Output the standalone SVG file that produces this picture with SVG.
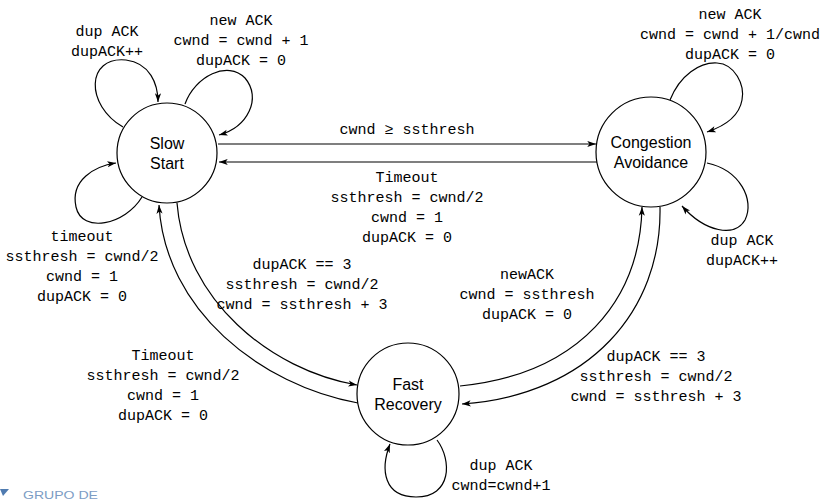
<svg xmlns="http://www.w3.org/2000/svg" width="822" height="500" viewBox="0 0 822 500">
<style>
.node circle{fill:#fff;stroke:#000;stroke-width:1.2}
.nl{font-family:"Liberation Sans","DejaVu Sans",sans-serif;font-size:16px;fill:#000;text-anchor:middle}
.lb{font-family:"Liberation Mono","DejaVu Sans Mono",monospace;font-size:15px;fill:#000;text-anchor:middle}
.c{fill:none;stroke:#000;stroke-width:1.2;marker-end:url(#arr)}
</style>
<defs>
<marker id="arr" viewBox="0 0 10 8" refX="10" refY="4" markerWidth="9" markerHeight="7" orient="auto" markerUnits="userSpaceOnUse">
<path d="M0,0.5 L10,4 L0,7.5 L2.5,4 Z" fill="#000"/>
</marker>
</defs>
<rect width="822" height="500" fill="#fff"/>
<g id="connectors">
<path class="c" d="M185,104 C195,76 228,60 245,78 C262,98 248,127 219,135"/>
<path class="c" d="M123,127 C85,105 86,56 126,60 C150,63 158,84 158,102"/>
<path class="c" d="M142,197 C125,225 82,234 76,207 C70,180 95,166 116,163"/>
<path class="c" d="M218,144 L596,144"/>
<path class="c" d="M597,162 L219,162"/>
<path class="c" d="M670,100 C680,75 700,62 717,63 C735,64 745,85 742,100 C739,117 725,126 707,132"/>
<path class="c" d="M707,163 C740,170 755,200 745,220 C735,238 705,232 682,206"/>
<path class="c" d="M177,203 C185,300 270,370 357,385"/>
<path class="c" d="M358,403 C260,385 165,310 159,205"/>
<path class="c" d="M460,386 C580,374 640,300 642,207"/>
<path class="c" d="M660,207 C662,310 590,395 462,404"/>
<path class="c" d="M437,440 C452,460 452,497 416,497 C384,497 380,470 390,444"/>
</g>
<g id="slow-start" class="node">
<circle cx="167" cy="153" r="50"/>
<text class="nl" x="167" y="149">Slow</text>
<text class="nl" x="167" y="169">Start</text>
</g>
<g id="congestion-avoidance" class="node">
<circle cx="651" cy="152" r="55"/>
<text class="nl" x="651" y="148">Congestion</text>
<text class="nl" x="651" y="168">Avoidance</text>
</g>
<g id="fast-recovery" class="node">
<circle cx="408" cy="394" r="51"/>
<text class="nl" x="408" y="390">Fast</text>
<text class="nl" x="408" y="410">Recovery</text>
</g>
<g id="labels">
<text class="lb" x="107" y="36">dup ACK</text>
<text class="lb" x="107" y="56">dupACK++</text>
<text class="lb" x="241" y="25">new ACK</text>
<text class="lb" x="241" y="45">cwnd = cwnd + 1</text>
<text class="lb" x="241" y="65">dupACK = 0</text>
<text class="lb" x="82" y="241">timeout</text>
<text class="lb" x="82" y="261">ssthresh = cwnd/2</text>
<text class="lb" x="82" y="281">cwnd = 1</text>
<text class="lb" x="82" y="301">dupACK = 0</text>
<text class="lb" x="407" y="134">cwnd ≥ ssthresh</text>
<text class="lb" x="407" y="182">Timeout</text>
<text class="lb" x="407" y="202">ssthresh = cwnd/2</text>
<text class="lb" x="407" y="222">cwnd = 1</text>
<text class="lb" x="407" y="242">dupACK = 0</text>
<text class="lb" x="730" y="19">new ACK</text>
<text class="lb" x="730" y="39">cwnd = cwnd + 1/cwnd</text>
<text class="lb" x="730" y="59">dupACK = 0</text>
<text class="lb" x="742" y="245">dup ACK</text>
<text class="lb" x="742" y="265">dupACK++</text>
<text class="lb" x="302" y="269">dupACK == 3</text>
<text class="lb" x="302" y="289">ssthresh = cwnd/2</text>
<text class="lb" x="302" y="309">cwnd = ssthresh + 3</text>
<text class="lb" x="527" y="279">newACK</text>
<text class="lb" x="527" y="299">cwnd = ssthresh</text>
<text class="lb" x="527" y="319">dupACK = 0</text>
<text class="lb" x="656" y="361">dupACK == 3</text>
<text class="lb" x="656" y="381">ssthresh = cwnd/2</text>
<text class="lb" x="656" y="401">cwnd = ssthresh + 3</text>
<text class="lb" x="163" y="360">Timeout</text>
<text class="lb" x="163" y="380">ssthresh = cwnd/2</text>
<text class="lb" x="163" y="400">cwnd = 1</text>
<text class="lb" x="163" y="420">dupACK = 0</text>
<text class="lb" x="501" y="470">dup ACK</text>
<text class="lb" x="501" y="490">cwnd=cwnd+1</text>
</g>
<g id="logo">
<path d="M0,489 L9,489 L3,496 Z" fill="#4f7bb0"/>
<text x="23" y="499" font-family="Liberation Sans, sans-serif" font-size="10" textLength="75" lengthAdjust="spacingAndGlyphs" fill="#7c9cc4">GRUPO DE</text>
</g>
</svg>
